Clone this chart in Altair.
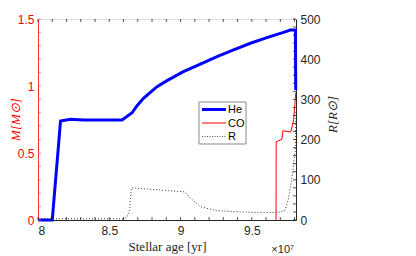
import altair as alt
import pandas as pd
import numpy as np

# ---- data (age in units of 1e7 yr) ----
he_age = [8.00, 8.10, 8.158, 8.228, 8.32, 8.59, 8.66, 8.695, 8.74, 8.788, 8.835, 8.905, 9.02,
          9.139, 9.256, 9.372, 9.49, 9.606, 9.722, 9.77, 9.806, 9.808]
he_mass = [0.0, 0.0, 0.739, 0.751, 0.746, 0.746, 0.80, 0.853, 0.908, 0.953, 0.995, 1.040, 1.107,
           1.164, 1.219, 1.269, 1.319, 1.361, 1.40, 1.418, 1.418, 0.97]

co_age = [9.670, 9.671, 9.711, 9.718, 9.774, 9.793, 9.802, 9.808]
co_mass = [0.0, 0.584, 0.602, 0.666, 0.657, 0.746, 0.86, 0.95]

r_age = [8.00, 8.60, 8.625, 8.643, 8.655, 9.03, 9.05, 9.07, 9.14, 9.256, 9.49, 9.65, 9.70,
         9.734, 9.755, 9.78, 9.805, 9.809]
r_rad = [3, 3, 8, 25, 80, 70, 62, 54, 33, 23, 19, 18.6, 20, 25, 50, 100, 174, 274]

series_names = ["He", "CO", "R"]
x_major = [8, 8.5, 9, 9.5]
x_minor = [round(v, 1) for v in np.arange(8.0, 9.81, 0.1)]
m_major = [0, 0.5, 1, 1.5]
m_minor = [round(v, 1) for v in np.arange(0.0, 1.51, 0.1)]
r_major = [0, 100, 200, 300, 400, 500]
r_minor = list(range(0, 501, 20))

W, H = 258, 201
XDOM = [8.0, 9.81]
DARK = "#262626"

xs = alt.Scale(domain=XDOM, nice=False, zero=False)
ms = alt.Scale(domain=[0, 1.5], nice=False)
rs = alt.Scale(domain=[0, 500], nice=False)

df_he = pd.DataFrame({"age": he_age, "m": he_mass, "i": range(len(he_age))})
df_co = pd.DataFrame({"age": co_age, "m": co_mass, "i": range(len(co_age))})
df_r = pd.DataFrame({"age": r_age, "r": r_rad, "i": range(len(r_age))})

x_enc = alt.X("age:Q", scale=xs, axis=alt.Axis(
    values=x_major, format="~g", title="Stellar age [yr]", ticks=False, grid=False,
    labelFont="Liberation Sans", labelFontSize=12, labelColor=DARK, labelPadding=5,
    domainColor=DARK, titleFont="Liberation Serif", titleFontSize=13,
    titleFontWeight="normal", titleColor=DARK,
    titleX=W / 2, titleY=26, titleAlign="center", titleBaseline="middle"))

left_axis = alt.Axis(values=m_major, format="~g", title="M[M⊙]", ticks=False, grid=False,
                     labelFont="Liberation Sans", labelFontSize=12, labelColor="red",
                     labelPadding=4, domainColor="#ff3333",
                     titleFont="Liberation Serif", titleFontSize=13, titleFontStyle="italic",
                     titleFontWeight="normal", titleColor="red", titleAngle=270,
                     titleX=-23, titleY=100, titleAlign="center", titleBaseline="middle")

right_axis = alt.Axis(values=r_major, format="d", title="R[R⊙]", ticks=False, grid=False,
                      orient="right",
                      labelFont="Liberation Sans", labelFontSize=12, labelColor=DARK,
                      labelPadding=4, domainColor=DARK,
                      titleFont="Liberation Serif", titleFontSize=13, titleFontStyle="italic",
                      titleFontWeight="normal", titleColor=DARK, titleAngle=270,
                      titleX=36, titleY=95, titleAlign="center", titleBaseline="middle")

he = alt.Chart(df_he).mark_line(color="#0000ff", strokeWidth=3).encode(
    x=x_enc, y=alt.Y("m:Q", scale=ms, axis=left_axis), order="i:Q")
co = alt.Chart(df_co).mark_line(color="#ff0000", strokeWidth=1).encode(
    x=alt.X("age:Q", scale=xs), y=alt.Y("m:Q", scale=ms), order="i:Q")

# inward ticks for mass axis (left)
df_mt = pd.DataFrame({"m": m_minor})
mtick = alt.Chart(df_mt).mark_rule(color="#ff6666", strokeWidth=0.8).encode(
    y=alt.Y("m:Q", scale=ms), x=alt.value(0), x2=alt.value(3))

left = alt.layer(he, co, mtick)

r = alt.Chart(df_r).mark_line(color="#333333", strokeWidth=1, strokeDash=[1, 2]).encode(
    x=alt.X("age:Q", scale=xs), y=alt.Y("r:Q", scale=rs, axis=right_axis), order="i:Q")
df_rt = pd.DataFrame({"r": r_minor})
rtick = alt.Chart(df_rt).mark_rule(color=DARK, strokeWidth=0.8).encode(
    y=alt.Y("r:Q", scale=rs), x=alt.value(W - 3), x2=alt.value(W))
right = alt.layer(r, rtick)

df_xt = pd.DataFrame({"age": x_minor})
xtick_b = alt.Chart(df_xt).mark_rule(color=DARK, strokeWidth=0.8).encode(
    x=alt.X("age:Q", scale=xs), y=alt.value(H - 3), y2=alt.value(H))
xtick_t = alt.Chart(df_xt).mark_rule(color=DARK, strokeWidth=0.8).encode(
    x=alt.X("age:Q", scale=xs), y=alt.value(0), y2=alt.value(3))

# legend (drawn inside the plot)
dummy = pd.DataFrame({"a": [0]})
LX, LY = 161, 83
leg_box = alt.Chart(dummy).mark_rect(fill="white", stroke="#888888", strokeWidth=1).encode(
    x=alt.value(LX), x2=alt.value(LX + 47), y=alt.value(LY), y2=alt.value(LY + 42))
leg_layers = [leg_box]
styles = [dict(color="#0000ff", strokeWidth=3),
          dict(color="#ff5555", strokeWidth=1.5),
          dict(color="#555555", strokeWidth=1, strokeDash=[1, 1.5])]
for k, (name, st) in enumerate(zip(series_names, styles)):
    yy = LY + 7.5 + 13.5 * k
    leg_layers.append(alt.Chart(dummy).mark_rule(**st).encode(
        x=alt.value(LX + 3), x2=alt.value(LX + 27), y=alt.value(yy)))
    leg_layers.append(alt.Chart(pd.DataFrame({"t": [name]})).mark_text(
        align="left", baseline="middle", font="Liberation Sans", fontSize=11, color="black").encode(
        x=alt.value(LX + 29), y=alt.value(yy + 0.5), text="t:N"))

exp_text = alt.Chart(pd.DataFrame({"t": ["×10⁷"]})).mark_text(
    align="right", baseline="middle", font="Liberation Sans", fontSize=11, color=DARK).encode(
    x=alt.value(W - 2), y=alt.value(H + 30), text="t:N")

chart = alt.layer(left, right, xtick_b, xtick_t, *leg_layers, exp_text).resolve_scale(
    y="independent"
).properties(
    width=W, height=H,
    autosize=alt.AutoSizeParams(type="none"),
    padding={"left": 30, "top": 11, "right": 112, "bottom": 36},
).configure_view(stroke=DARK, strokeWidth=1).configure(background="white")

chart.save("out.html", embed_options={"renderer": "svg", "actions": False})
